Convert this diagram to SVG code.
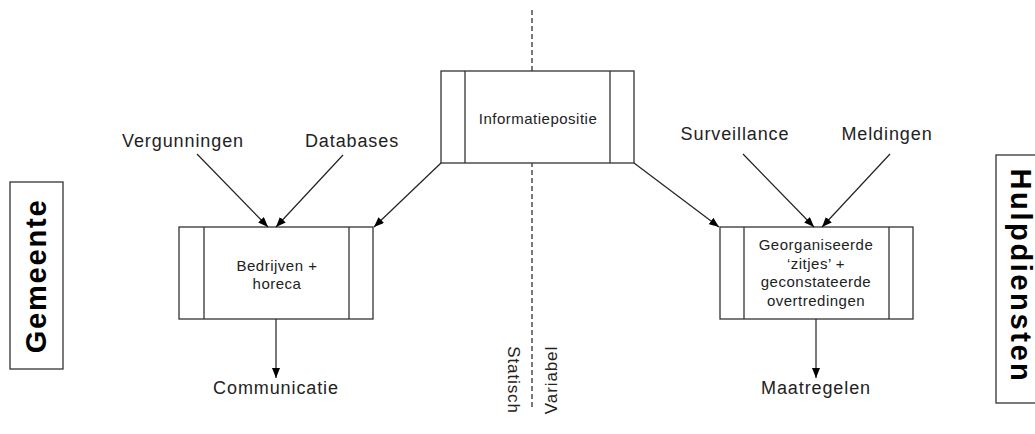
<svg xmlns="http://www.w3.org/2000/svg" width="1035" height="434" viewBox="0 0 1035 434">
<defs>
<style>
.box{fill:#fff;stroke:#333;stroke-width:1.3}
.div{fill:none;stroke:#333;stroke-width:1.3}
.con{fill:none;stroke:#222;stroke-width:1.2;marker-end:url(#ah)}
.lbl{font-family:"Liberation Sans",Arial,sans-serif;font-size:18px;letter-spacing:0.9px;fill:#222;text-anchor:middle}
.bt{font-family:"Liberation Sans",Arial,sans-serif;font-size:15px;letter-spacing:0.5px;fill:#222;text-anchor:middle}
.big{font-family:"Liberation Sans",Arial,sans-serif;font-size:29px;font-weight:bold;fill:#000;text-anchor:middle}
.side{font-family:"Liberation Sans",Arial,sans-serif;font-size:17px;letter-spacing:0.9px;fill:#222;text-anchor:middle}
</style>
<marker id="ah" viewBox="0 0 10 8" refX="10" refY="4" markerWidth="10" markerHeight="8" markerUnits="userSpaceOnUse" orient="auto">
<path d="M0,0 L10,4 L0,8 Z" fill="#000"/>
</marker>
</defs>
<rect width="1035" height="434" fill="#fff"/>

<g id="divider">
<line x1="532" y1="10" x2="532" y2="408" stroke="#222" stroke-width="1.2" stroke-dasharray="5,3"/>
<text class="side" transform="translate(508,380) rotate(90)">Statisch</text>
<text class="side" transform="translate(557,380) rotate(-90)">Variabel</text>
</g>

<g id="gemeente">
<rect class="box" x="10" y="182" width="53" height="187"/>
<text class="big" letter-spacing="1.8" transform="translate(46,276) rotate(-90)">Gemeente</text>
</g>

<g id="hulpdiensten">
<rect class="box" x="996" y="155" width="50" height="248"/>
<text class="big" letter-spacing="2.6" transform="translate(1011,276) rotate(90)">Hulpdiensten</text>
</g>

<g id="informatiepositie">
<rect class="box" x="441" y="71" width="193" height="92"/>
<line class="div" x1="465" y1="71" x2="465" y2="163"/>
<line class="div" x1="610" y1="71" x2="610" y2="163"/>
<text class="bt" x="538" y="123.5">Informatiepositie</text>
</g>

<g id="bedrijven">
<rect class="box" x="179" y="227" width="194" height="92"/>
<line class="div" x1="204" y1="227" x2="204" y2="319"/>
<line class="div" x1="349" y1="227" x2="349" y2="319"/>
<text class="bt" x="277" y="270.5">Bedrijven +</text>
<text class="bt" x="277" y="288.5">horeca</text>
</g>

<g id="georganiseerde">
<rect class="box" x="720" y="227" width="193" height="92"/>
<line class="div" x1="744" y1="227" x2="744" y2="319"/>
<line class="div" x1="889" y1="227" x2="889" y2="319"/>
<text class="bt" x="816" y="250">Georganiseerde</text>
<text class="bt" x="816" y="268.5">‘zitjes’ +</text>
<text class="bt" x="816" y="287">geconstateerde</text>
<text class="bt" x="816" y="305.5">overtredingen</text>
</g>

<g id="vergunningen"><text class="lbl" x="183" y="147">Vergunningen</text></g>
<g id="databases"><text class="lbl" x="352" y="147">Databases</text></g>
<g id="surveillance"><text class="lbl" x="735" y="140">Surveillance</text></g>
<g id="meldingen"><text class="lbl" x="887" y="140">Meldingen</text></g>
<g id="communicatie"><text class="lbl" x="276" y="394">Communicatie</text></g>
<g id="maatregelen"><text class="lbl" x="816" y="394">Maatregelen</text></g>

<g id="connectors">
<line class="con" x1="197" y1="154" x2="268" y2="227"/>
<line class="con" x1="343" y1="155" x2="276" y2="227"/>
<line class="con" x1="441" y1="163" x2="374" y2="227"/>
<line class="con" x1="634" y1="163" x2="719" y2="227"/>
<line class="con" x1="743" y1="154" x2="814" y2="227"/>
<line class="con" x1="890" y1="154" x2="822" y2="227"/>
<line class="con" x1="276" y1="319" x2="276" y2="378"/>
<line class="con" x1="816" y1="319" x2="816" y2="378"/>
</g>
</svg>
